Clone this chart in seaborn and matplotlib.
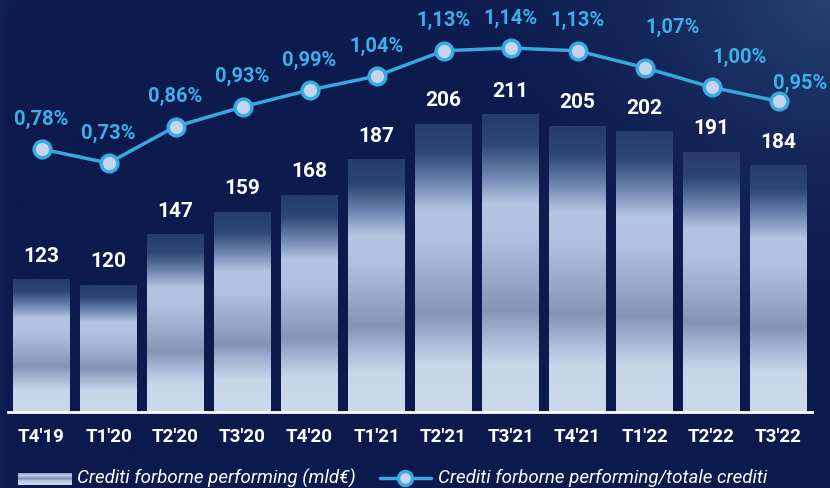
import numpy as np
import matplotlib
matplotlib.use("Agg")
import matplotlib.pyplot as plt
import seaborn as sns
import pandas as pd
from matplotlib.colors import LinearSegmentedColormap
from matplotlib.lines import Line2D

# ---- data ----
quarters = ["T4'19", "T1'20", "T2'20", "T3'20", "T4'20", "T1'21",
            "T2'21", "T3'21", "T4'21", "T1'22", "T2'22", "T3'22"]
volumes = [123, 120, 147, 159, 168, 187, 206, 211, 205, 202, 191, 184]
ratios = [0.78, 0.73, 0.86, 0.93, 0.99, 1.04, 1.13, 1.14, 1.13, 1.07, 1.00, 0.95]
bar_label = "Crediti forborne performing (mld\u20ac)"
line_label = "Crediti forborne performing/totale crediti"

sns.set_theme(style="white")
plt.rcParams['font.family'] = ['Roboto', 'DejaVu Sans']

W, H = 830, 488
fig = plt.figure(figsize=(W / 100, H / 100), dpi=100)

# ---- background ----
bg = fig.add_axes([0, 0, 1, 1])
bg.axis('off')
yy, xx = np.mgrid[0:1:245j, 0:1:415j]
base = np.array([0x0c, 0x1a, 0x4e]) / 255
hi = np.array([0x2a, 0x48, 0x78]) / 255
d = np.sqrt(((xx - 1.0) * 1.6) ** 2 + ((yy - 0.0) * 1.0) ** 2)
t = np.clip(1 - d / 0.75, 0, 1) ** 1.8 * 0.8
t += np.clip(0.25 - yy, 0, 1) * 0.25
left = np.clip(1 - xx / 0.012, 0, 1) * 0.12
t = np.clip(t + left, 0, 1)
img = base[None, None, :] * (1 - t[..., None]) + hi[None, None, :] * t[..., None]
bg.imshow(img, extent=[0, 1, 0, 1], origin='upper', aspect='auto')
bg.set_xlim(0, 1)
bg.set_ylim(0, 1)

# ---- bars ----
y_lo = 51.8
y_hi = y_lo + 412 / 1.869
df = pd.DataFrame({"Trimestre": quarters, "Volume": volumes, "Ratio": ratios})

ax = fig.add_axes([8 / W, 76 / H, 804 / W, 412 / H])
ax.patch.set_alpha(0)
sns.barplot(data=df, x="Trimestre", y="Volume", ax=ax, width=0.85,
            color="#b0c4e2", saturation=1)

bar_cmap = LinearSegmentedColormap.from_list("bar", [
    (0.00, "#263c6b"), (0.10, "#2d4676"), (0.20, "#6a81ad"),
    (0.30, "#b2c5e3"), (0.42, "#adc0df"), (0.55, "#98aacb"),
    (0.66, "#8593b6"), (0.74, "#a3b4d2"), (0.84, "#c8d6ea"),
    (1.00, "#ccd9ec")])
grad = np.linspace(0, 1, 256).reshape(-1, 1)
for p in ax.patches:
    x0 = p.get_x()
    w = p.get_width()
    top = p.get_height()
    im = ax.imshow(grad, cmap=bar_cmap, extent=[x0, x0 + w, y_lo, top],
                   origin='upper', aspect='auto', zorder=2, vmin=0, vmax=1)
    im.set_clip_path(p)
    p.set_facecolor('none')
    p.set_edgecolor('none')

for i, v in enumerate(volumes):
    ax.annotate(str(v), (i, v), xytext=(0, 16.5), textcoords='offset points',
                ha='center', va='center', color='white', fontsize=15,
                fontweight='bold', zorder=5)

ax.set_xlim(-0.5, 11.5)
ax.set_ylim(y_lo, y_hi)
ax.set_xlabel('')
ax.set_ylabel('')
ax.set_yticks([])
for s in ['top', 'left', 'right']:
    ax.spines[s].set_visible(False)
ax.spines['bottom'].set_color('white')
ax.spines['bottom'].set_linewidth(2)
ax.spines['bottom'].set_zorder(6)
ax.tick_params(axis='x', length=0, pad=11.5, colors='white', labelsize=13.5)
for lab in ax.get_xticklabels():
    lab.set_fontweight('bold')

# ---- line ----
line_c = "#38a8e0"
mk_face = "#c6d5ee"
ax2 = ax.twinx()
ax2.patch.set_alpha(0)
sns.lineplot(data=df, x="Trimestre", y="Ratio", ax=ax2, sort=False,
             color=line_c, linewidth=2.5, marker='o', markersize=12,
             markerfacecolor=mk_face, markeredgecolor="#3aaae2",
             markeredgewidth=2.5, zorder=4)
ax2.set_ylim(-0.1573, 1.311)
ax2.set_xlim(-0.5, 11.5)
ax2.set_yticks([])
ax2.set_ylabel('')
ax2.set_xlabel('')
for s in ax2.spines.values():
    s.set_visible(False)

pt = 72 / 100
n = len(ratios)
for i, v in enumerate(ratios):
    dx, dy = 0, 30
    if i == n - 3:
        dx, dy = 28, 40
    elif i == n - 2:
        dx, dy = 28, 30
    elif i == n - 1:
        dx, dy = 22, 18
    txt = f"{v:.2f}".replace('.', ',') + '%'
    ax2.annotate(txt, (i, v), xytext=(dx * pt, dy * pt), textcoords='offset points',
                 ha='center', va='center', color="#3db0ea", fontsize=14.5,
                 fontweight='bold', zorder=6)

# ---- legend ----
sw = fig.add_axes([18 / W, (H - 485) / H, 53 / W, 12 / H])
sw.axis('off')
sw_cmap = LinearSegmentedColormap.from_list("sw", [
    (0.0, "#8a9abd"), (0.2, "#c4d2ea"), (0.45, "#7b8bb0"),
    (0.65, "#b8c8e3"), (1.0, "#d0dcee")])
sw.imshow(grad, cmap=sw_cmap, aspect='auto', origin='upper',
          extent=[0, 1, 0, 1], vmin=0, vmax=1)
ly = (H - 478) / H
fig.text(77 / W, ly, bar_label, color='white', fontsize=13.5, fontstyle='italic',
         ha='left', va='center')
fig.add_artist(Line2D([380 / W, 431 / W], [ly, ly], color=line_c, linewidth=2.5))
fig.add_artist(Line2D([405 / W], [ly], marker='o', markersize=10,
                      markerfacecolor=mk_face, markeredgecolor="#3aaae2",
                      markeredgewidth=2.5, linestyle='none'))
fig.text(438 / W, ly, line_label, color='white', fontsize=13.5, fontstyle='italic',
         ha='left', va='center')

fig.savefig("out.png", dpi=100)
